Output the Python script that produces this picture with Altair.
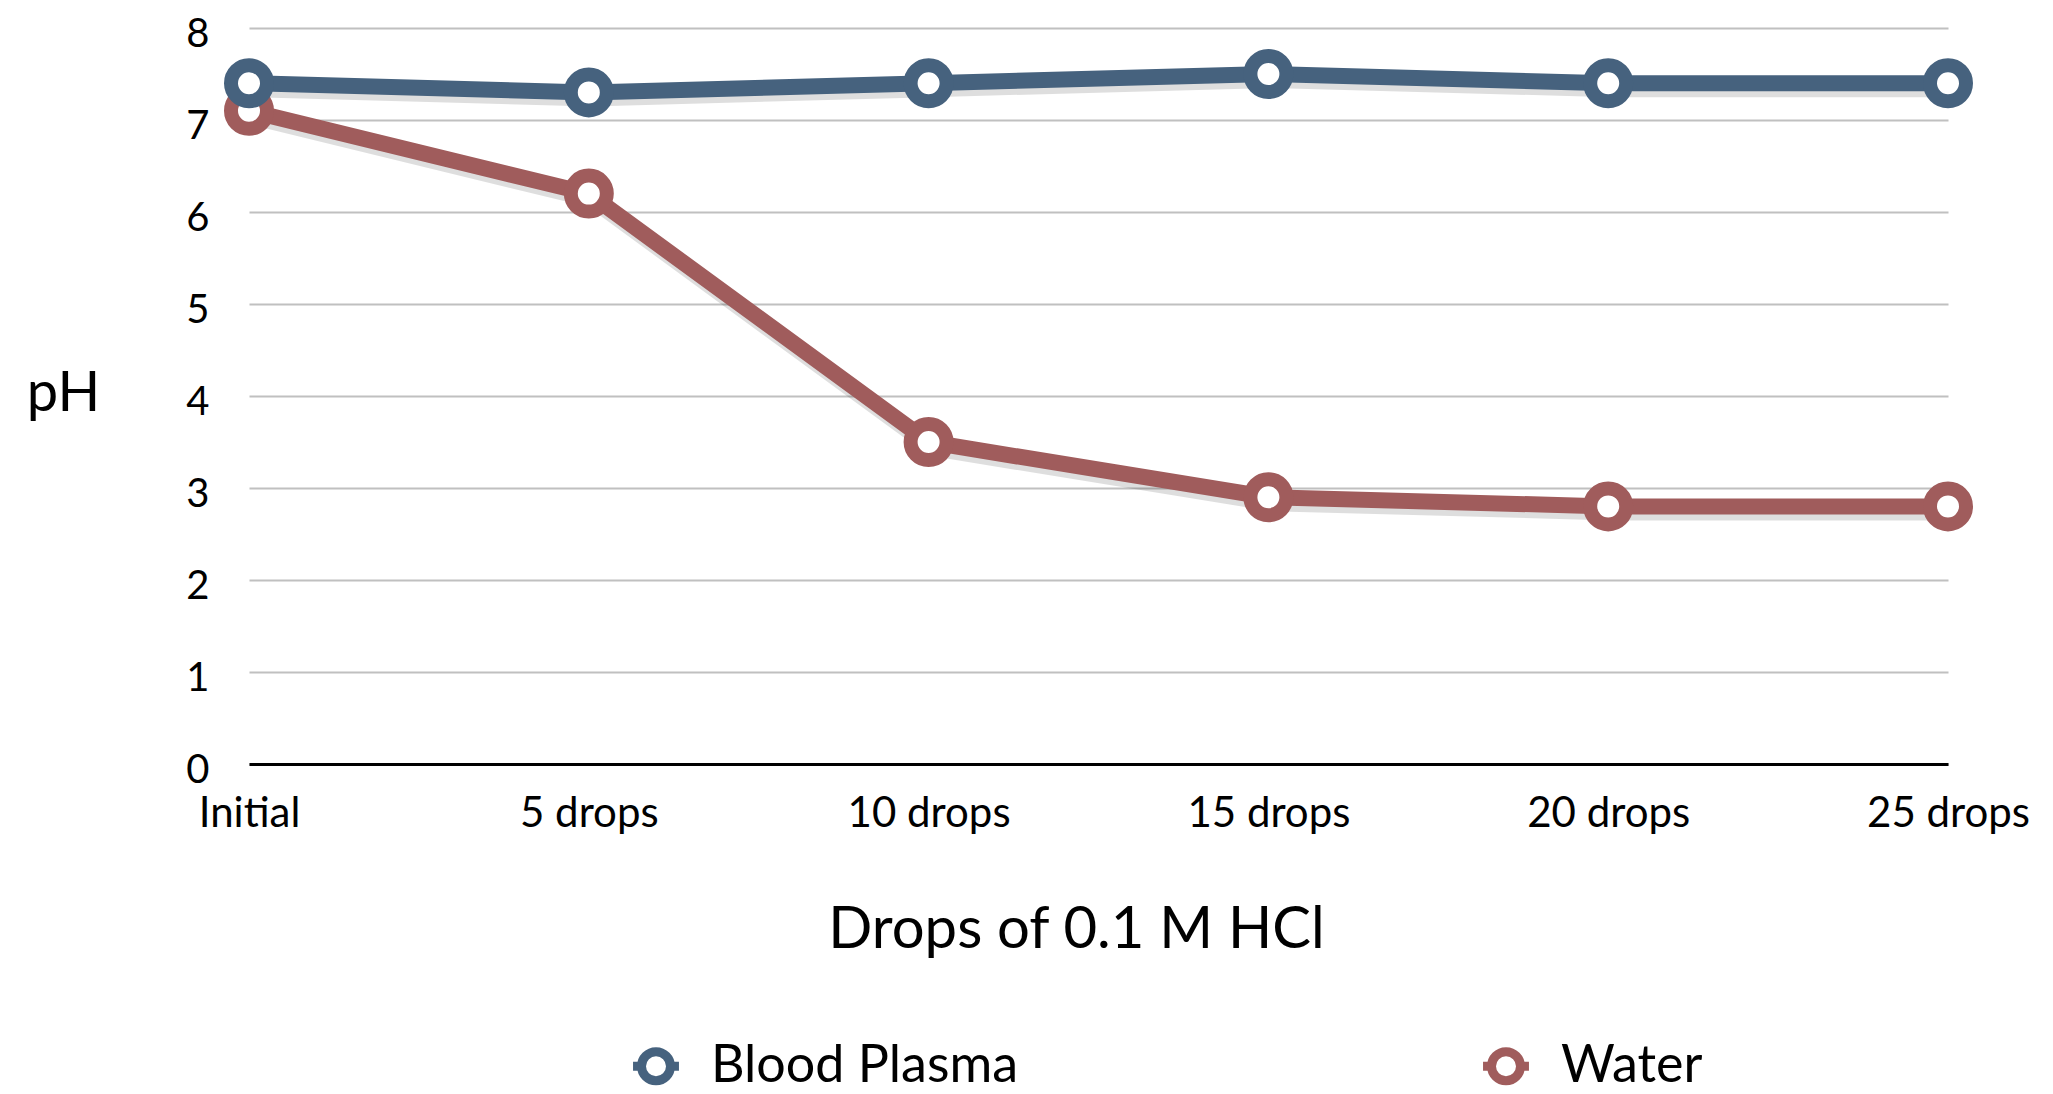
import altair as alt
import pandas as pd

categories = ["Initial", "5 drops", "10 drops", "15 drops", "20 drops", "25 drops"]
blood_plasma = [7.4, 7.3, 7.4, 7.5, 7.4, 7.4]
water = [7.1, 6.2, 3.5, 2.9, 2.8, 2.8]
series_names = ["Blood Plasma", "Water"]
series_colors = ["#46627e", "#a05c5c"]
y_ticks = [0, 1, 2, 3, 4, 5, 6, 7, 8]

rows = []
# water first so that blood plasma is drawn on top
for c, v in zip(categories, water):
    rows.append({"Drops": c, "pH": v, "Series": "Water"})
for c, v in zip(categories, blood_plasma):
    rows.append({"Drops": c, "pH": v, "Series": "Blood Plasma"})
df = pd.DataFrame(rows)

FONT = "Lato"

x = alt.X(
    "Drops:N",
    sort=categories,
    scale=alt.Scale(type="point", padding=0),
    axis=alt.Axis(
        title="Drops of 0.1 M HCl",
        labelAngle=0,
        labelFontSize=42,
        labelBaseline="alphabetic",
        labelPadding=62,
        ticks=False,
        tickSize=0,
        domainColor="#000000",
        domainWidth=3,
        gridColor="#c0c0c0",
        gridWidth=2,
        titleFontSize=58,
        titleFontWeight="normal",
        titleX=827,
        titleY=183,
        titleAlign="center",
        titleBaseline="alphabetic",
    ),
)
y = alt.Y(
    "pH:Q",
    scale=alt.Scale(domain=[0, 8], nice=False),
    axis=alt.Axis(
        title="pH",
        values=y_ticks,
        labelFontSize=40,
        labelPadding=40,
        labelOffset=6,
        ticks=False,
        tickSize=0,
        domain=False,
        gridColor="#c0c0c0",
        gridWidth=2,
        titleFontSize=56,
        titleFontWeight="normal",
        titleAngle=0,
        titleX=-186,
        titleY=365,
        titleAlign="center",
        titleBaseline="middle",
    ),
)

color = alt.Color(
    "Series:N",
    scale=alt.Scale(domain=series_names, range=series_colors),
    legend=alt.Legend(
        title=None,
        orient="none",
        legendX=378,
        legendY=1009,
        direction="horizontal",
        columns=2,
        columnPadding=446,
        labelFontSize=52,
        labelLimit=1000,
        labelOffset=26,
        symbolType="M-0.95,0H-0.6M0.6,0H0.95M0.6,0A0.6,0.6 0 1,1 -0.6,0A0.6,0.6 0 1,1 0.6,0",
        symbolSize=2336,
        symbolStrokeWidth=9,
        symbolFillColor="white",
        symbolOpacity=1,
        padding=0,
    ),
)

base = alt.Chart(df)

shadow = base.mark_line(
    strokeWidth=16, color="#000000", opacity=0.13, xOffset=3, yOffset=6
).encode(x=x, y=y, detail="Series:N")

lines = base.mark_line(strokeWidth=16).encode(x=x, y=y, color=color)

points = base.mark_point(
    shape="circle",
    size=1296,
    strokeWidth=14,
    filled=False,
    fill="white",
    fillOpacity=1,
    opacity=1,
).encode(x=x, y=y, color=color)

chart = (
    alt.layer(shadow, lines, points)
    .properties(
        width=1699,
        height=736,
        autosize=alt.AutoSizeParams(type="none"),
        padding={"left": 241, "top": 20, "right": 97, "bottom": 328},
    )
    .configure(font=FONT)
    .configure_view(strokeWidth=0)
    .configure_axis(labelColor="#000000", titleColor="#000000")
    .configure_legend(labelColor="#000000")
)

chart.save("out.html", embed_options={"renderer": "svg", "actions": False})
